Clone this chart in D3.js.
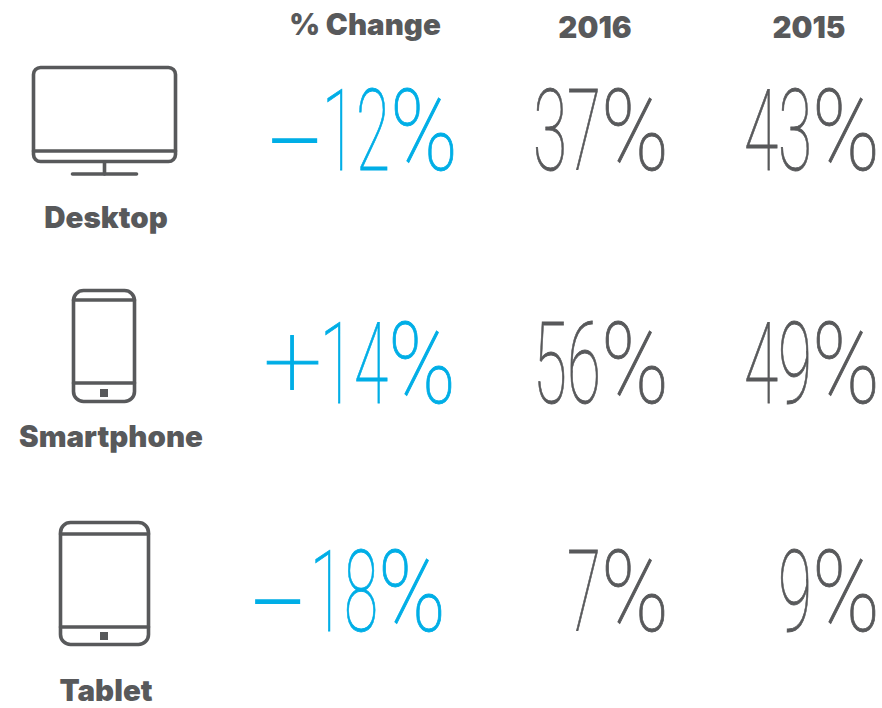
<!DOCTYPE html>
<html>
<head>
<meta charset="utf-8">
<script src="https://cdn.jsdelivr.net/npm/d3@7"></script>
<style>
html, body { margin: 0; padding: 0; background: #fff; }
</style>
</head>
<body>
<svg id="chart"></svg>
<script>
var width = 882;
var height = 708;

var categories = ["Desktop", "Smartphone", "Tablet"];
var headers = ["% Change", "2016", "2015"];
var changeSigns = ["\u2013", "+", "\u2013"];
var changeValues = [12, 14, 18];
var values2016 = [37, 56, 7];
var values2015 = [43, 49, 9];

var grey = "#58595b";
var blue = "#00aee6";

var svg = d3.select("#chart")
    .attr("width", width)
    .attr("height", height);

// Baselines of the big numbers, one for each row
var y = d3.scaleOrdinal()
    .domain(categories)
    .range([170, 403, 631]);

// Baselines of the labels under the icons
var labelY = d3.scaleOrdinal()
    .domain(categories)
    .range([228, 447, 701]);

// Column headers
var headerX = d3.scaleOrdinal()
    .domain(headers)
    .range([365, 595, 809]);

var headerY = d3.scaleOrdinal()
    .domain(headers)
    .range([35, 38, 38]);

svg.selectAll(".header")
    .data(headers)
    .enter().append("text")
    .attr("class", "header")
    .attr("x", function (d) { return headerX(d); })
    .attr("y", function (d) { return headerY(d); })
    .attr("text-anchor", "middle")
    .style("font-family", "Inter")
    .style("font-weight", 900)
    .style("font-size", "29.5px")
    .style("fill", grey)
    .text(function (d) { return d; });

// Category labels
svg.selectAll(".label")
    .data(categories)
    .enter().append("text")
    .attr("class", "label")
    .attr("x", function (d, i) { return [106, 111, 106][i]; })
    .attr("y", function (d) { return labelY(d); })
    .attr("text-anchor", "middle")
    .style("font-family", "Inter")
    .style("font-weight", 900)
    .style("font-size", "29.5px")
    .style("fill", grey)
    .text(function (d) { return d; });

// Big thin numbers: digits and the % sign are squeezed by different amounts
var squeeze = 0.52;
var digitWidth = 34;
var percentWidth = 68;

function bigNumber(right, baseline, value, color) {
    var digits = String(value);
    var digitsWidth = digits.length * digitWidth;
    var left = right - digitsWidth - percentWidth;

    var t = svg.append("text")
        .attr("class", "big")
        .attr("transform", "translate(" + left + "," + baseline + ") scale(" + squeeze + ",1)")
        .style("font-family", "Roboto")
        .style("font-weight", 100)
        .style("font-size", "113px")
        .style("fill", color)
        .style("stroke", color)
        .style("stroke-width", 0.9);

    t.append("tspan")
        .attr("textLength", digitsWidth / squeeze)
        .attr("lengthAdjust", "spacingAndGlyphs")
        .text(digits);

    t.append("tspan")
        .attr("textLength", percentWidth / squeeze)
        .attr("lengthAdjust", "spacingAndGlyphs")
        .text("%");
}

var changeRight = [458, 456, 446];
var signRight = [325, 322, 308];
var signY = [4, -6, 4];

categories.forEach(function (c, i) {
    var plus = changeSigns[i] === "+";

    svg.append("text")
        .attr("class", "sign")
        .attr("x", signRight[i])
        .attr("y", y(c) + signY[i])
        .attr("text-anchor", "end")
        .style("font-family", "Roboto")
        .style("font-weight", plus ? 100 : 300)
        .style("font-size", plus ? "104px" : "92px")
        .style("fill", blue)
        .style("stroke", blue)
        .style("stroke-width", plus ? 0.9 : 0)
        .text(changeSigns[i]);

    bigNumber(changeRight[i], y(c), changeValues[i], blue);
    bigNumber(669, y(c), values2016[i], grey);
    bigNumber(880, y(c), values2015[i], grey);
});

// Icons
function frame(g, x, yTop, w, h, r) {
    g.append("rect")
        .attr("x", x).attr("y", yTop)
        .attr("width", w).attr("height", h)
        .attr("rx", r).attr("ry", r);
}

function bar(g, x1, y1, x2, y2) {
    g.append("line")
        .attr("x1", x1).attr("y1", y1)
        .attr("x2", x2).attr("y2", y2);
}

function button(g, x, yTop) {
    g.append("rect")
        .attr("x", x).attr("y", yTop)
        .attr("width", 8).attr("height", 8)
        .style("fill", grey)
        .style("stroke", "none");
}

var icons = svg.append("g")
    .style("fill", "none")
    .style("stroke", grey)
    .style("stroke-width", 3.6)
    .style("stroke-linecap", "round");

// Desktop
frame(icons, 33.5, 67.5, 142, 94, 7);
bar(icons, 33.5, 151, 175.5, 151);
bar(icons, 104.5, 162, 104.5, 174);
bar(icons, 72.5, 174, 136.5, 174);

// Smartphone
frame(icons, 73.5, 290.5, 61, 111, 10);
bar(icons, 73.5, 300, 134.5, 300);
bar(icons, 73.5, 383, 134.5, 383);
button(icons, 100, 389);

// Tablet
frame(icons, 60.5, 522.5, 88, 122, 10);
bar(icons, 60.5, 534, 148.5, 534);
bar(icons, 60.5, 627, 148.5, 627);
button(icons, 100, 632);
</script>
</body>
</html>
